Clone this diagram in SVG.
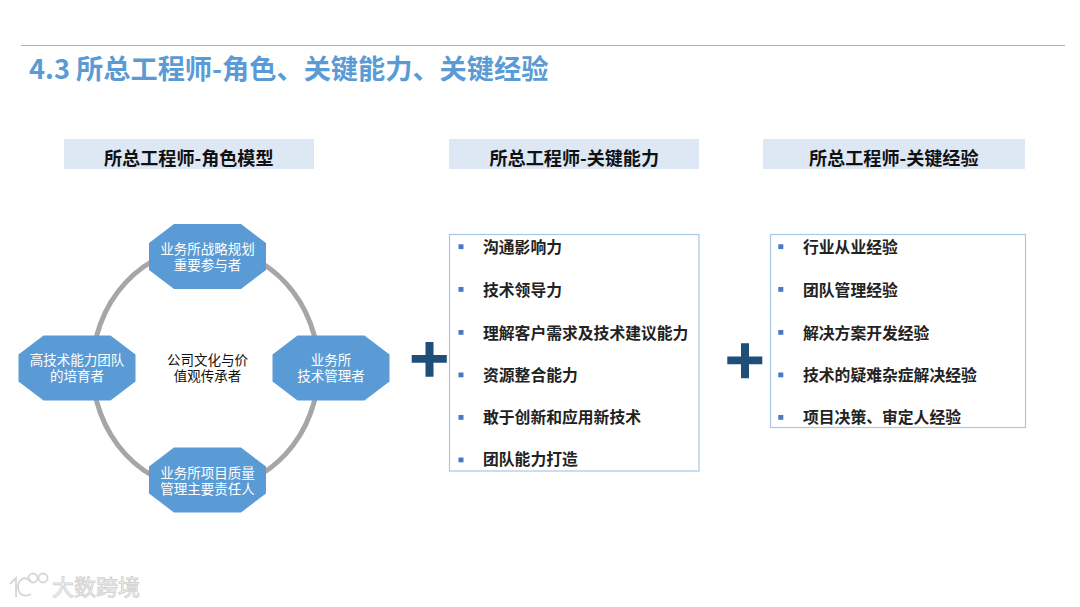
<svg xmlns="http://www.w3.org/2000/svg" width="1080" height="607" viewBox="0 0 1080 607">
<style>
text{font-family:"Noto Sans CJK SC","Noto Sans",sans-serif}
.oct{fill:#5b9bd5}
.nt{fill:#fff;font-size:13.5px;text-anchor:middle}
.hd{fill:#dee8f4}
.ht{fill:#111;font-size:18.1px;font-weight:700;text-anchor:middle}
.box{fill:#fff;stroke:#a9c8e6;stroke-width:1.2}
.li{fill:#222;font-size:15.8px;font-weight:700}
.bu{fill:#4a78c4}
.plus{fill:#1f4e79}
</style>
<defs>
<polygon id="octagon" points="25,0 92,0 117,19 117,46 92,65 25,65 0,46 0,19"/>
</defs>
<rect width="1080" height="607" fill="#fff"/>
<g id="header">
<line x1="21" y1="45.500" x2="1065" y2="45.500" stroke="#93bcd6" stroke-width="1"/>
<text x="29" y="79" font-size="27.200" font-weight="700" fill="#5b9bd5">4.3 所总工程师-角色、关键能力、关键经验</text>
</g>
<g id="col-headers">
<g id="head-role"><rect class="hd" x="64" y="139" width="250" height="30"/><text class="ht" x="188.800" y="164.500">所总工程师-角色模型</text></g>
<g id="head-ability"><rect class="hd" x="449" y="139" width="250" height="30"/><text class="ht" x="574.300" y="164.500">所总工程师-关键能力</text></g>
<g id="head-exp"><rect class="hd" x="763" y="139" width="262" height="30"/><text class="ht" x="893.800" y="164.500">所总工程师-关键经验</text></g>
</g>
<g id="connectors">
<ellipse cx="205.500" cy="368.500" rx="113" ry="121.500" fill="none" stroke="#a6a6a6" stroke-width="5"/>
</g>
<g id="node-top"><use href="#octagon" class="oct" x="149" y="224"/><text class="nt"><tspan x="207.500" y="254">业务所战略规划</tspan><tspan x="207.500" y="270">重要参与者</tspan></text></g>
<g id="node-right"><use href="#octagon" class="oct" x="272.500" y="335.500"/><text class="nt"><tspan x="331" y="365">业务所</tspan><tspan x="331" y="381">技术管理者</tspan></text></g>
<g id="node-left"><use href="#octagon" class="oct" x="18.500" y="335.500"/><text class="nt"><tspan x="77" y="365">高技术能力团队</tspan><tspan x="77" y="381">的培育者</tspan></text></g>
<g id="node-bottom"><use href="#octagon" class="oct" x="149" y="447.500"/><text class="nt"><tspan x="207.500" y="478">业务所项目质量</tspan><tspan x="207.500" y="494">管理主要责任人</tspan></text></g>
<g id="node-center"><text font-size="13.500" fill="#111" text-anchor="middle"><tspan x="207.500" y="365">公司文化与价</tspan><tspan x="207.500" y="381">值观传承者</tspan></text></g>
<g id="plus-1"><path class="plus" d="M425.500 342h8v13h13.300v7.800h-13.300v14h-8v-14h-13.800v-7.800h13.800z"/></g>
<g id="plus-2"><path class="plus" d="M741 343.300h8v13.200h13.300v7.800h-13.300v14h-8v-14h-13.700v-7.800h13.700z"/></g>
<g id="ability-list">
<rect class="box" x="449.500" y="234.500" width="249.500" height="236.500"/>
<rect class="bu" x="458.500" y="244.300" width="5" height="4.800"/><text class="li" x="483" y="253">沟通影响力</text>
<rect class="bu" x="458.500" y="287" width="5" height="4.800"/><text class="li" x="483" y="296">技术领导力</text>
<rect class="bu" x="458.500" y="330" width="5" height="4.800"/><text class="li" x="483" y="339">理解客户需求及技术建议能力</text>
<rect class="bu" x="458.500" y="372.500" width="5" height="4.800"/><text class="li" x="483" y="381">资源整合能力</text>
<rect class="bu" x="458.500" y="415" width="5" height="4.800"/><text class="li" x="483" y="423">敢于创新和应用新技术</text>
<rect class="bu" x="458.500" y="457.500" width="5" height="4.800"/><text class="li" x="483" y="465">团队能力打造</text>
</g>
<g id="experience-list">
<rect class="box" x="770.500" y="234.500" width="255" height="193"/>
<rect class="bu" x="778.300" y="244.300" width="5" height="4.800"/><text class="li" x="803" y="253">行业从业经验</text>
<rect class="bu" x="778.300" y="287" width="5" height="4.800"/><text class="li" x="803" y="296">团队管理经验</text>
<rect class="bu" x="778.300" y="330" width="5" height="4.800"/><text class="li" x="803" y="339">解决方案开发经验</text>
<rect class="bu" x="778.300" y="372.500" width="5" height="4.800"/><text class="li" x="803" y="381">技术的疑难杂症解决经验</text>
<rect class="bu" x="778.300" y="415" width="5" height="4.800"/><text class="li" x="803" y="423">项目决策、审定人经验</text>
</g>
<g id="watermark" fill="none" stroke="#d6d6d6" stroke-width="1.800">
<path d="M10 584l6-6v19M31 581c-7-6-13-1-13 6s6 11 13 7"/>
<circle cx="33" cy="578" r="4.500"/><circle cx="43" cy="578" r="4.500"/>
<text x="52" y="595" font-size="22" font-weight="400" fill="#fff" stroke="#d4d4d4" stroke-width="1">大数跨境</text>
</g>
</svg>
